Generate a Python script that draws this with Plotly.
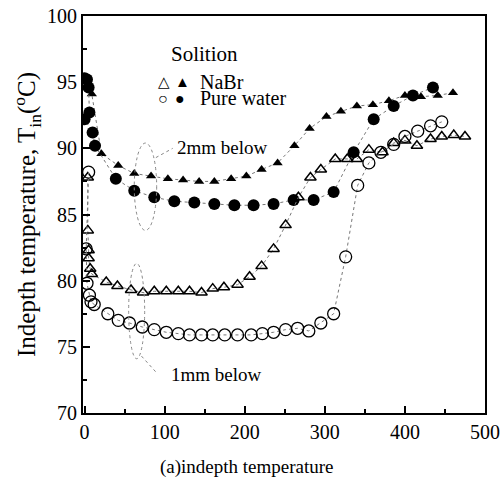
import plotly.graph_objects as go

# NaBr, 2 mm below (filled triangles)
nabr2_x = [5, 9, 21, 42, 62, 83, 104, 123, 143, 162, 183, 202, 221, 241, 262, 281, 302, 320, 340, 360, 380, 400, 412, 420, 441, 460]
nabr2_y = [94.8, 94.1, 89.6, 88.7, 88.1, 87.9, 87.7, 87.6, 87.5, 87.5, 87.7, 87.9, 88.4, 88.9, 90.2, 91.5, 92.4, 92.8, 93.2, 93.3, 93.6, 94.0, 94.0, 93.9, 94.0, 94.2]

# Pure water, 2 mm below (filled circles)
water2_x = [0, 3, 5, 6, 0, 10, 13, 39, 62, 87, 112, 137, 162, 187, 211, 236, 261, 286, 311, 336, 361, 386, 410, 435]
water2_y = [95.3, 95.2, 94.6, 92.7, 92.2, 91.2, 90.2, 87.7, 86.8, 86.3, 86.0, 85.9, 85.8, 85.7, 85.7, 85.8, 86.1, 86.1, 86.7, 89.7, 92.2, 93.2, 94.0, 94.6]

# NaBr, 1 mm below (open triangles)
nabr1_x = [4, 4, 5, 5, 7, 9, 27, 41, 58, 73, 87, 102, 117, 131, 146, 160, 174, 191, 206, 221, 236, 251, 267, 282, 295, 313, 328, 340, 355, 372, 386, 400, 415, 432, 446, 461, 475]
nabr1_y = [87.8, 83.8, 82.3, 81.7, 80.9, 80.5, 79.9, 79.6, 79.3, 79.1, 79.2, 79.2, 79.2, 79.2, 79.1, 79.4, 79.5, 79.7, 80.3, 81.1, 82.4, 84.2, 86.3, 87.8, 88.4, 89.2, 89.2, 89.2, 89.9, 89.7, 90.4, 90.6, 90.2, 90.7, 90.9, 91.0, 90.9]

# Pure water, 1 mm below (open circles)
water1_x = [5, 2, 3, 6, 8, 12, 29, 42, 56, 72, 87, 102, 117, 131, 146, 160, 175, 191, 208, 222, 236, 251, 266, 280, 295, 311, 326, 341, 355, 370, 386, 400, 416, 432, 446]
water1_y = [88.2, 82.4, 79.8, 78.9, 78.4, 78.2, 77.5, 77.0, 76.8, 76.5, 76.3, 76.1, 76.0, 75.9, 75.9, 75.9, 75.9, 75.9, 75.9, 76.0, 76.1, 76.3, 76.4, 76.2, 76.8, 77.5, 81.8, 87.2, 88.9, 89.7, 90.3, 90.9, 91.3, 91.7, 92.0]

FONT = "Liberation Serif, Times New Roman, serif"
LINE = dict(color="#777777", width=1, dash="dot")

fig = go.Figure()
series = [
    (nabr2_x, nabr2_y, "triangle-up", "black", 9, 0),
    (water2_x, water2_y, "circle", "black", 12, 0),
    (nabr1_x, nabr1_y, "triangle-up-open", "black", 10, 1.5),
    (water1_x, water1_y, "circle-open", "black", 12, 1.3),
]
for xs, ys, sym, col, sz, lw in series:
    fig.add_trace(go.Scatter(
        x=xs, y=ys, mode="lines+markers", showlegend=False,
        line=LINE,
        marker=dict(symbol=sym, color=col, size=sz, line=dict(width=lw, color="black")),
    ))

# Dashed ellipses grouping 2mm / 1mm curves
fig.add_shape(type="circle", xref="x", yref="y", x0=62, x1=90, y0=83.8, y1=90.4,
              line=dict(color="#888888", width=1, dash="dot"))
fig.add_shape(type="circle", xref="x", yref="y", x0=55, x1=75, y0=74.1, y1=81.3,
              line=dict(color="#888888", width=1, dash="dot"))
fig.add_shape(type="line", xref="x", yref="y", x0=89, y0=89.3, x1=110, y1=90.0,
              line=dict(color="#888888", width=1, dash="dot"))
fig.add_shape(type="line", xref="x", yref="y", x0=71, y0=74.3, x1=89, y1=73.1,
              line=dict(color="#888888", width=1, dash="dot"))

ann = [
    dict(x=113, y=90.1, text="2mm below", size=19),
    dict(x=106, y=72.9, text="1mm below", size=19),
    dict(x=106, y=97.1, text="Solition", size=21),
    dict(x=89, y=95.0, text="△", size=15),
    dict(x=111, y=95.0, text="▲", size=15),
    dict(x=89, y=93.8, text="○", size=16),
    dict(x=111, y=93.8, text="●", size=16),
    dict(x=142, y=95.0, text="NaBr", size=20),
    dict(x=142, y=93.8, text="Pure water", size=20),
]
for a in ann:
    fig.add_annotation(x=a["x"], y=a["y"], xref="x", yref="y", text=a["text"],
                       showarrow=False, xanchor="left", yanchor="middle",
                       font=dict(family=FONT, size=a["size"], color="black"))

# x-axis caption (shifted left of plot centre as in the original)
fig.add_annotation(x=0.408, y=-0.135, xref="paper", yref="paper",
                   text="(a)indepth temperature", showarrow=False,
                   xanchor="center", yanchor="middle",
                   font=dict(family=FONT, size=19, color="black"))

fig.update_layout(
    width=501, height=482,
    margin=dict(l=83, r=16, t=16, b=69, autoexpand=False),
    paper_bgcolor="white", plot_bgcolor="white",
    font=dict(family=FONT, size=20, color="black"),
    xaxis=dict(range=[-2, 500], tickvals=[0, 100, 200, 300, 400, 500],
               ticks="inside", ticklen=7, tickwidth=1.5, tickcolor="black",
               minor=dict(tickvals=[50, 150, 250, 350, 450], ticks="inside", ticklen=4, tickcolor="black"),
               showline=True, linecolor="black", linewidth=2, mirror=True,
               showgrid=False, zeroline=False, automargin=False),
    yaxis=dict(range=[70, 100], tickvals=[70, 75, 80, 85, 90, 95, 100],
               ticks="inside", ticklen=7, tickwidth=1.5, tickcolor="black",
               minor=dict(tickvals=[72.5, 77.5, 82.5, 87.5, 92.5, 97.5], ticks="inside", ticklen=4, tickcolor="black"),
               showline=True, linecolor="black", linewidth=2, mirror=True,
               showgrid=False, zeroline=False, automargin=False,
               title=dict(text="Indepth temperature, T<sub>in</sub>(<sup>o</sup>C)", font=dict(size=25), standoff=4)),
)

fig.write_html("out.html")
